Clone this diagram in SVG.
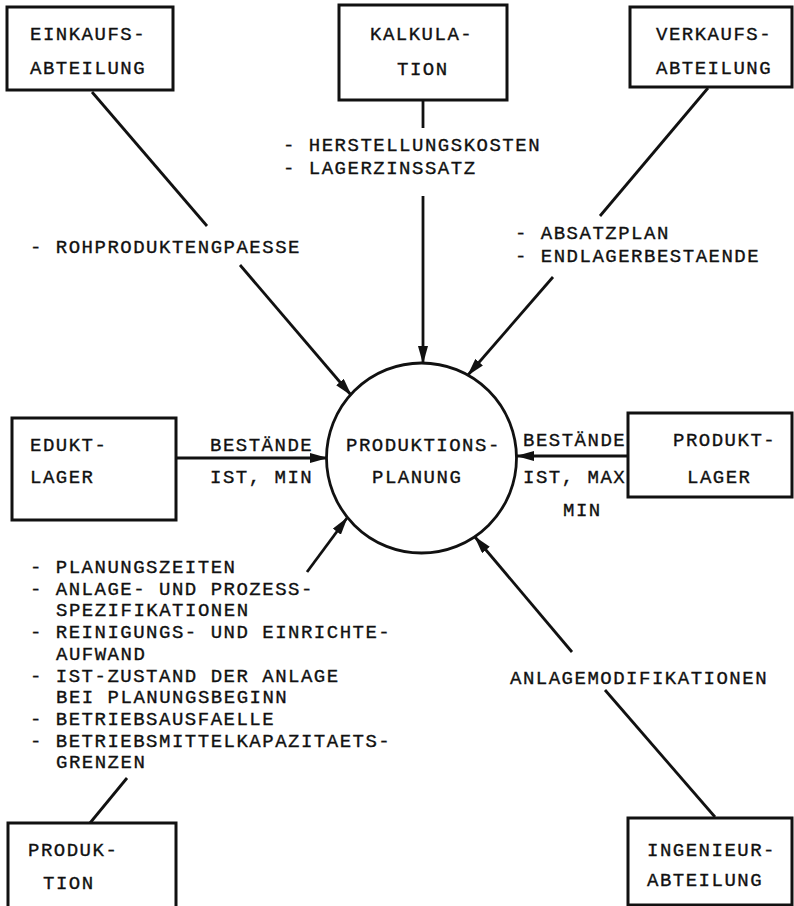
<svg xmlns="http://www.w3.org/2000/svg" width="794" height="906" viewBox="0 0 794 906">
<style>
  .box { fill: #fff; stroke: #111; stroke-width: 3; }
  .circ { fill: #fff; stroke: #111; stroke-width: 2.8; }
  .ln { fill: none; stroke: #111; stroke-width: 2.8; }
  .arr { fill: none; stroke: #111; stroke-width: 2.8; marker-end: url(#ah); }
  text { font-family: "Liberation Mono", "DejaVu Sans Mono", monospace; font-size: 19px; letter-spacing: 1.5px; fill: #111; stroke: #111; stroke-width: 0.35; }
</style>
<defs>
  <marker id="ah" markerWidth="18" markerHeight="10" refX="17" refY="5" orient="auto" markerUnits="userSpaceOnUse">
    <path d="M0,0 L18,5 L0,10 z" fill="#111"/>
  </marker>
</defs>
<rect width="794" height="906" fill="#fff"/>

<g id="connectors">
  <line class="ln" x1="92" y1="92" x2="207" y2="226"/>
  <line class="arr" x1="240" y1="265" x2="351" y2="395"/>
  <line class="ln" x1="423" y1="100" x2="423" y2="128"/>
  <line class="arr" x1="423" y1="196" x2="423" y2="363"/>
  <line class="ln" x1="708" y1="88" x2="600" y2="216"/>
  <line class="arr" x1="553" y1="277" x2="468" y2="375"/>
  <line class="arr" x1="176" y1="458" x2="327" y2="458"/>
  <line class="arr" x1="628" y1="456" x2="517" y2="456"/>
  <line class="arr" x1="307" y1="572" x2="347" y2="518"/>
  <line class="ln" x1="127" y1="778" x2="90" y2="823"/>
  <line class="arr" x1="572" y1="652" x2="475" y2="537"/>
  <line class="ln" x1="605" y1="690" x2="715" y2="817"/>
</g>

<g id="labels">
  <text x="30" y="253">- ROHPRODUKTENGPAESSE</text>
  <text x="283" y="151">- HERSTELLUNGSKOSTEN</text>
  <text x="283" y="174">- LAGERZINSSATZ</text>
  <text x="515" y="239">- ABSATZPLAN</text>
  <text x="515" y="262">- ENDLAGERBESTAENDE</text>
  <text x="210" y="451">BESTÄNDE</text>
  <text x="210" y="483">IST, MIN</text>
  <text x="523" y="446">BESTÄNDE</text>
  <text x="523" y="483">IST, MAX</text>
  <text x="563" y="516">MIN</text>
  <text x="30" y="573">- PLANUNGSZEITEN</text>
  <text x="30" y="594.7">- ANLAGE- UND PROZESS-</text>
  <text x="56" y="616.4">SPEZIFIKATIONEN</text>
  <text x="30" y="638">- REINIGUNGS- UND EINRICHTE-</text>
  <text x="56" y="659.8">AUFWAND</text>
  <text x="30" y="681.5">- IST-ZUSTAND DER ANLAGE</text>
  <text x="56" y="703">BEI PLANUNGSBEGINN</text>
  <text x="30" y="725">- BETRIEBSAUSFAELLE</text>
  <text x="30" y="746.6">- BETRIEBSMITTELKAPAZITAETS-</text>
  <text x="56" y="768.3">GRENZEN</text>
  <text x="510" y="684">ANLAGEMODIFIKATIONEN</text>
</g>

<g id="einkaufsabteilung">
  <rect class="box" x="7" y="7" width="166" height="83"/>
  <text x="30" y="40">EINKAUFS-</text>
  <text x="30" y="74">ABTEILUNG</text>
</g>

<g id="kalkulation">
  <rect class="box" x="339" y="5" width="168" height="95"/>
  <text x="370" y="40">KALKULA-</text>
  <text x="397" y="75">TION</text>
</g>

<g id="verkaufsabteilung">
  <rect class="box" x="630" y="7" width="162" height="80"/>
  <text x="656" y="40">VERKAUFS-</text>
  <text x="656" y="74">ABTEILUNG</text>
</g>

<g id="produktionsplanung">
  <circle class="circ" cx="421.5" cy="458" r="95"/>
  <text x="346" y="451">PRODUKTIONS-</text>
  <text x="372" y="483">PLANUNG</text>
</g>

<g id="eduktlager">
  <rect class="box" x="12" y="418" width="164" height="102"/>
  <text x="30" y="451">EDUKT-</text>
  <text x="30" y="483">LAGER</text>
</g>

<g id="produktlager">
  <rect class="box" x="628" y="413" width="164" height="84"/>
  <text x="673" y="446">PRODUKT-</text>
  <text x="687" y="483">LAGER</text>
</g>

<g id="produktion">
  <rect class="box" x="8" y="823" width="168" height="90"/>
  <text x="28" y="856">PRODUK-</text>
  <text x="43" y="889">TION</text>
</g>

<g id="ingenieurabteilung">
  <rect class="box" x="628" y="818" width="164" height="87"/>
  <text x="647" y="856">INGENIEUR-</text>
  <text x="647" y="886">ABTEILUNG</text>
</g>
</svg>
